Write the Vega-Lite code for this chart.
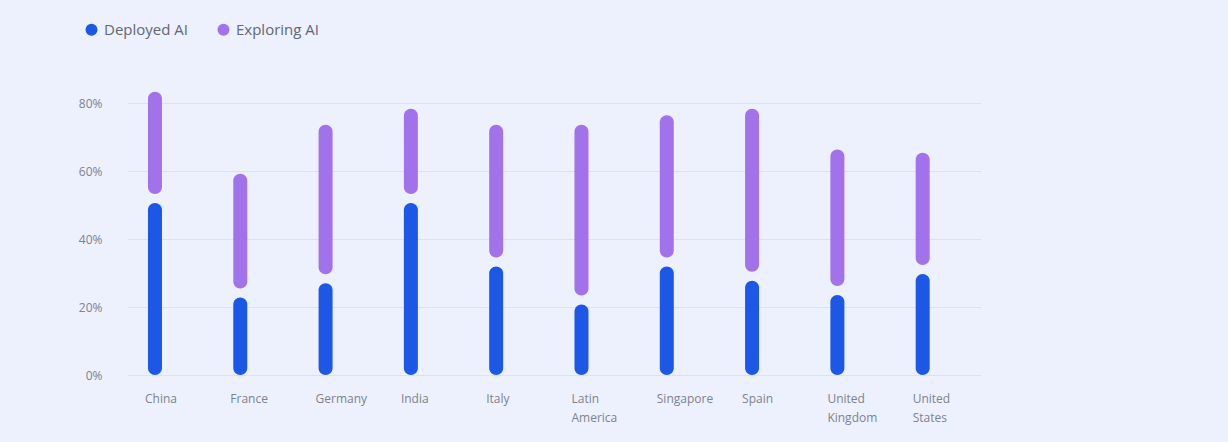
{
  "$schema": "https://vega.github.io/schema/vega-lite/v6.json",
  "autosize": {"type": "none"},
  "padding": {"left": 128, "top": 103, "right": 247, "bottom": 67},
  "width": 853,
  "height": 272,
  "background": "#ecf1fd",
  "config": {
    "view": {"stroke": null},
    "font": "Open Sans",
    "axis": {"labelFont": "Open Sans", "labelColor": "#7d8290", "labelFontSize": 12, "domain": false, "ticks": false, "title": null},
    "legend": {"labelFont": "Open Sans"}
  },
  "data": {
    "values": [
      {"country": "China", "deployed": 50.6, "total": 83.3},
      {"country": "France", "deployed": 22.8, "total": 59.2},
      {"country": "Germany", "deployed": 27.0, "total": 73.6},
      {"country": "India", "deployed": 50.6, "total": 78.3},
      {"country": "Italy", "deployed": 31.9, "total": 73.6},
      {"country": "Latin America", "deployed": 20.7, "total": 73.6},
      {"country": "Singapore", "deployed": 31.9, "total": 76.4},
      {"country": "Spain", "deployed": 27.7, "total": 78.3},
      {"country": "United Kingdom", "deployed": 23.5, "total": 66.3},
      {"country": "United States", "deployed": 29.7, "total": 65.4}
    ]
  },
  "encoding": {
    "x": {
      "field": "country",
      "type": "nominal",
      "sort": null,
      "scale": {"paddingInner": 0, "paddingOuter": 0},
      "axis": {
        "labelAngle": 0,
        "labelAlign": "left",
        "labelBaseline": "top",
        "labelOffset": -25.67,
        "labelPadding": 18,
        "labelLineHeight": 19,
        "labelExpr": "split(datum.label, ' ')",
        "grid": false
      }
    }
  },
  "layer": [
    {
      "mark": {"type": "bar", "width": 14, "xOffset": -15.67, "cornerRadius": 7},
      "encoding": {
        "y": {
          "field": "deployed",
          "type": "quantitative",
          "stack": null,
          "scale": {"domain": [0, 80], "nice": false},
          "axis": {
            "values": [0, 20, 40, 60, 80],
            "labelExpr": "datum.value + '%'",
            "labelPadding": 26,
            "gridColor": "#dce2ec",
            "gridWidth": 1
          }
        },
        "color": {
          "datum": "Deployed AI",
          "scale": {"domain": ["Deployed AI", "Exploring AI"], "range": ["#1c57e6", "#a272eb"]},
          "legend": {
            "orient": "none",
            "direction": "horizontal",
            "legendX": -44,
            "legendY": -81,
            "title": null,
            "symbolType": "circle",
            "symbolSize": 144,
            "symbolStrokeWidth": 0,
            "labelFontSize": 15,
            "labelColor": "#626776",
            "labelOffset": 5,
            "columnPadding": 28
          }
        }
      }
    },
    {
      "mark": {"type": "bar", "width": 14, "xOffset": -15.67, "cornerRadius": 7, "y2Offset": -9},
      "encoding": {
        "y": {"field": "total", "type": "quantitative", "stack": null},
        "y2": {"field": "deployed"},
        "color": {"datum": "Exploring AI"}
      }
    }
  ]
}
